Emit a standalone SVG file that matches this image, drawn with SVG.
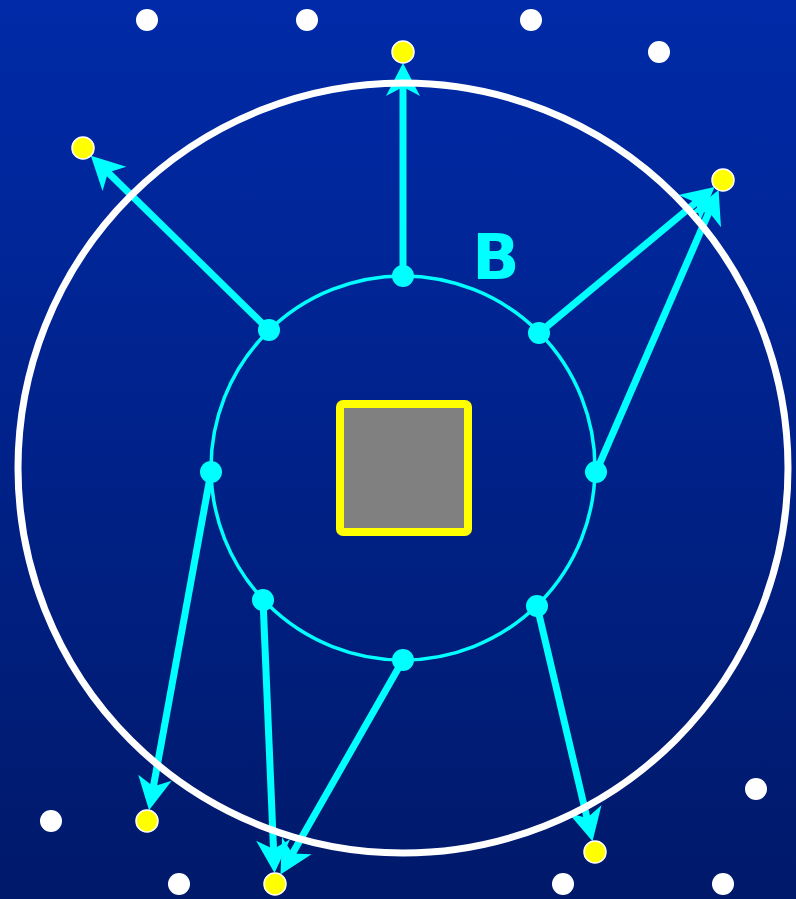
<svg xmlns="http://www.w3.org/2000/svg" width="796" height="899" viewBox="0 0 796 899">
<defs>
<linearGradient id="bg" x1="0" y1="0" x2="0" y2="1">
<stop offset="0" stop-color="#002aa8"/>
<stop offset="1" stop-color="#00196a"/>
</linearGradient>
<marker id="ah" markerUnits="userSpaceOnUse" markerWidth="40" markerHeight="40" refX="0" refY="0" orient="auto" overflow="visible">
<path d="M17,0 L-16,-17 L-7,0 L-16,17 Z" fill="#00ffff"/>
</marker>
<style>
.arr{stroke:#00ffff;stroke-width:7;fill:none;marker-end:url(#ah)}
.node{fill:#00ffff}
.end{fill:#ffff00;stroke:#ffffff;stroke-width:1.5}
.star{fill:#ffffff}
</style>
</defs>
<rect x="0" y="0" width="796" height="899" fill="url(#bg)"/>
<g id="inner-ring"><circle cx="403" cy="468" r="192" fill="none" stroke="#00ffff" stroke-width="3.5"/></g>
<g id="core"><rect x="340" y="404" width="128" height="128" rx="3" fill="#808080" stroke="#ffff00" stroke-width="8"/></g>
<g id="connectors">
<line class="arr" x1="403" y1="276" x2="403" y2="80"/>
<line class="arr" x1="269" y1="330" x2="103" y2="167.6"/>
<line class="arr" x1="539" y1="333" x2="701.5" y2="197.9"/>
<line class="arr" x1="596" y1="472" x2="711.8" y2="205.7"/>
<line class="arr" x1="211" y1="472" x2="152.1" y2="793.5"/>
<line class="arr" x1="263" y1="600" x2="273.8" y2="856"/>
<line class="arr" x1="403" y1="660" x2="288.9" y2="859.7"/>
<line class="arr" x1="537" y1="606" x2="588.6" y2="824.7"/>
</g>
<g id="outer-ring"><circle cx="403" cy="468" r="385" fill="none" stroke="#ffffff" stroke-width="7"/></g>
<g id="ring-nodes">
<circle class="node" cx="403" cy="276" r="11"/>
<circle class="node" cx="539" cy="333" r="11"/>
<circle class="node" cx="596" cy="472" r="11"/>
<circle class="node" cx="537" cy="606" r="11"/>
<circle class="node" cx="403" cy="660" r="11"/>
<circle class="node" cx="263" cy="600" r="11"/>
<circle class="node" cx="211" cy="472" r="11"/>
<circle class="node" cx="269" cy="330" r="11"/>
</g>
<g id="endpoints">
<circle class="end" cx="403" cy="52" r="11"/>
<circle class="end" cx="83" cy="148" r="11"/>
<circle class="end" cx="723" cy="180" r="11"/>
<circle class="end" cx="147" cy="821" r="11"/>
<circle class="end" cx="275" cy="884" r="11"/>
<circle class="end" cx="595" cy="852" r="11"/>
</g>
<g id="white-dots">
<circle class="star" cx="147" cy="20" r="11"/>
<circle class="star" cx="307" cy="20" r="11"/>
<circle class="star" cx="531" cy="20" r="11"/>
<circle class="star" cx="659" cy="52" r="11"/>
<circle class="star" cx="756" cy="789" r="11"/>
<circle class="star" cx="51" cy="821" r="11"/>
<circle class="star" cx="179" cy="884" r="11"/>
<circle class="star" cx="563" cy="884" r="11"/>
<circle class="star" cx="723" cy="884" r="11"/>
</g>
<g id="label-B"><text x="496" y="279" text-anchor="middle" font-family="DejaVu Sans, sans-serif" font-weight="bold" font-size="62" fill="#00ffff">B</text></g>
</svg>
